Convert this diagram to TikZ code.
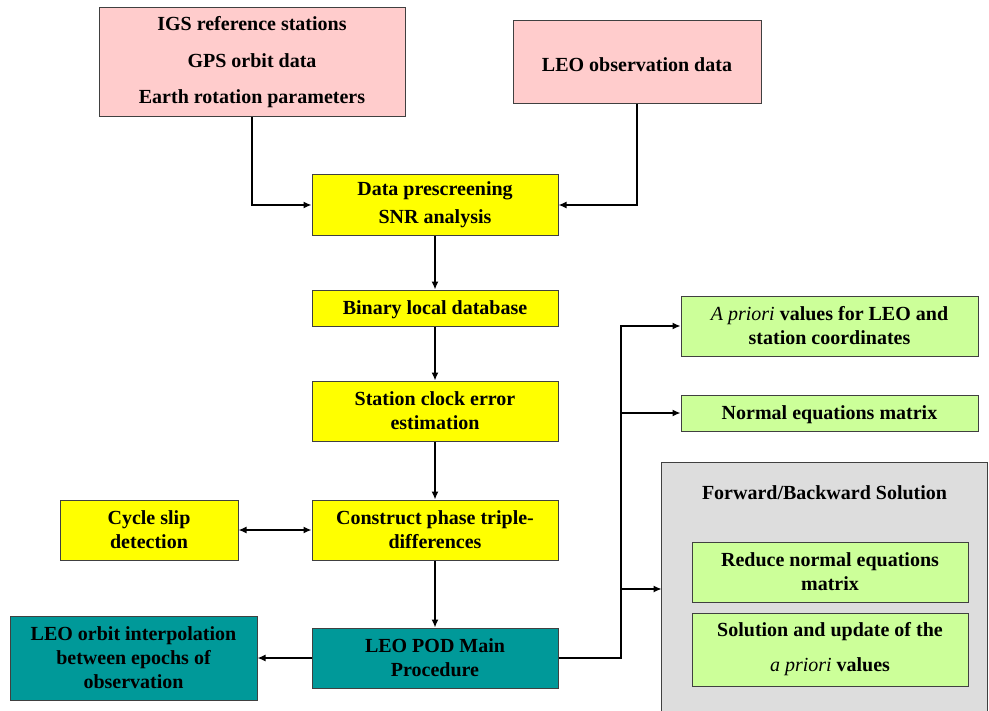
\documentclass[tikz,border=0pt]{standalone}
\usepackage{fontspec}
\setmainfont{Liberation Serif}
\usetikzlibrary{arrows.meta}
\definecolor{boxpink}{HTML}{FFCCCC}
\definecolor{boxyellow}{HTML}{FFFF00}
\definecolor{boxgreen}{HTML}{CCFF99}
\definecolor{boxteal}{HTML}{009999}
\definecolor{boxgrey}{HTML}{DDDDDD}
\definecolor{boxline}{HTML}{404040}
\begin{document}
\begin{tikzpicture}[x=0.5pt, y=-0.5pt,
      % --- GLOBAL STYLES ---
      every node/.style={font=\fontsize{10}{12}\selectfont\bfseries},
      blk/.style={rectangle, draw=boxline, line width=0.5pt, align=center, inner sep=0pt,
                  execute at begin node={\rule{0pt}{9pt}}},
      input/.style={blk, fill=boxpink},
      proc/.style={blk, fill=boxyellow, minimum width=123pt, minimum height=30pt},
      main/.style={blk, fill=boxteal},
      result/.style={blk, fill=boxgreen},
      group/.style={rectangle, fill=boxgrey, inner sep=0pt},
      flow/.style={line width=0.7pt, -{Latex[length=4pt,width=3.5pt]}},
      both/.style={line width=0.7pt, {Latex[length=4pt,width=3.5pt]}-{Latex[length=4pt,width=3.5pt]}}
  ]
    \useasboundingbox (0,0) rectangle (989,711);
    %
    % 1. Input data
    \node[input, minimum width=153pt, minimum height=54.5pt] (igs) at (252,62.5)
      {IGS reference stations\\[6.25pt] GPS orbit data\\[6.25pt] Earth rotation parameters};
    \node[input, minimum width=124pt, minimum height=41.5pt] (leo) at (637,62.5) {LEO observation data};
    %
    % 2. Main chain
    \node[proc] (pre) at (435,205) {Data prescreening\\[2pt] SNR analysis};
    \node[proc, minimum height=18pt] (bin) at (435,308) {Binary local database};
    \node[proc] (clk) at (435,411) {Station clock error\\ estimation};
    \node[proc] (tri) at (435,530) {Construct phase triple-\\ differences};
    \node[main, minimum width=123pt, minimum height=30pt] (pod) at (435,658) {LEO POD Main\\ Procedure};
    %
    % 3. Side boxes
    \node[proc, minimum width=89pt] (slip) at (149,530) {Cycle slip\\ detection};
    \node[main, minimum width=123.5pt, minimum height=42pt] (interp) at (133.5,658)
      {LEO orbit interpolation\\ between epochs of\\ observation};
    %
    % 4. Results
    \node[result, minimum width=148.5pt, minimum height=30pt] (apri) at (829.5,326)
      {{\mdseries\itshape A priori} values for LEO and\\ station coordinates};
    \node[result, minimum width=148.5pt, minimum height=18pt] (normeq) at (829.5,413) {Normal equations matrix};
    %
    % 5. Forward/Backward group
    \node[group, minimum width=162.5pt, minimum height=126pt] (fwd) at (824.5,589) {};
    \draw[boxline, line width=0.5pt] (fwd.south west) -- (fwd.north west) -- (fwd.north east) -- (fwd.south east);
    \node (fwdtitle) at (824.5,493) {Forward/Backward Solution};
    \node[result, minimum width=138pt, minimum height=30pt] (red) at (830,572) {Reduce normal equations\\ matrix};
    \node[result, minimum width=138pt, minimum height=36.5pt] (sol) at (830,649.5)
      {Solution and update of the\\[5.5pt] {\mdseries\itshape a priori} values};
    %
    % 6. Connectors
    \draw[flow] (igs.south) |- (pre.west);
    \draw[flow] (leo.south) |- (pre.east);
    \draw[flow] (pre) -- (bin);
    \draw[flow] (bin) -- (clk);
    \draw[flow] (clk) -- (tri);
    \draw[flow] (tri) -- (pod);
    \draw[both] (slip.east) -- (tri.west);
    \draw[flow] (pod.west) -- (interp.east);
    %
    % 7. Branch to results
    \coordinate (bus) at (621,0);
    \draw[flow] (pod.east) -| (bus |- apri.west) -- (apri.west);
    \draw[flow] (bus |- normeq.west) -- (normeq.west);
    \draw[flow] (bus |- fwd.west) -- (fwd.west);
  \end{tikzpicture}
\end{document}
